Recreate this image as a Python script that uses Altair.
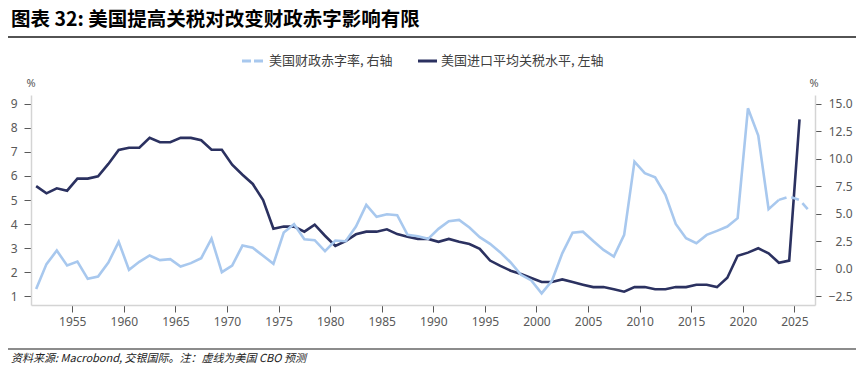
import altair as alt
import pandas as pd

# ---------------- data ----------------
years_tariff = list(range(1951, 2026))
tariff = [5.58, 5.28, 5.49, 5.39, 5.89, 5.89, 5.99, 6.50, 7.08, 7.17,
          7.17, 7.58, 7.40, 7.40, 7.58, 7.58, 7.48, 7.09, 7.09, 6.47,
          6.05, 5.67, 5.00, 3.81, 3.90, 3.90, 3.69, 3.98, 3.52, 3.10,
          3.30, 3.58, 3.69, 3.69, 3.79, 3.59, 3.48, 3.39, 3.39, 3.27,
          3.39, 3.27, 3.18, 2.98, 2.49, 2.27, 2.07, 1.93, 1.77, 1.60,
          1.60, 1.71, 1.60, 1.49, 1.39, 1.39, 1.30, 1.20, 1.39, 1.39,
          1.30, 1.30, 1.39, 1.39, 1.49, 1.49, 1.39, 1.78, 2.69, 2.82,
          3.00, 2.79, 2.40, 2.49, 8.35]

years_deficit = list(range(1951, 2027))
deficit = [-1.83, 0.44, 1.67, 0.31, 0.67, -0.90, -0.69, 0.58, 2.46, -0.08,
           0.65, 1.22, 0.80, 0.89, 0.22, 0.53, 0.98, 2.76, -0.29, 0.31,
           2.12, 1.92, 1.19, 0.46, 3.30, 4.06, 2.70, 2.61, 1.61, 2.58,
           2.52, 3.85, 5.81, 4.73, 4.97, 4.88, 3.09, 2.97, 2.73, 3.64,
           4.33, 4.45, 3.76, 2.89, 2.28, 1.50, 0.59, -0.53, -1.04, -2.22,
           -1.07, 1.42, 3.29, 3.38, 2.53, 1.73, 1.13, 3.09, 9.74, 8.69,
           8.32, 6.72, 4.09, 2.79, 2.34, 3.09, 3.46, 3.85, 4.61, 14.58,
           12.10, 5.42, 6.27, 6.57, 6.27, 5.21]
forecast_start = 2023

x_ticks = list(range(1955, 2026, 5))
left_ticks = list(range(1, 10))
right_ticks = [-2.5, 0, 2.5, 5, 7.5, 10, 12.5, 15]

title_text = "图表 32: 美国提高关税对改变财政赤字影响有限"
legend_deficit = "美国财政赤字率, 右轴"
legend_tariff = "美国进口平均关税水平, 左轴"
source_text = "资料来源: Macrobond, 交银国际。注：虚线为美国 CBO 预测"

# ---------------- styling ----------------
DARK = "#2B3160"
LIGHT = "#A8C8EE"
AX = "#595959"
DOM = "#D4D4D4"
FONT = "Noto Sans"
CJK = "Noto Sans CJK SC"
W, H = 784, 210

df_t = pd.DataFrame({"year": years_tariff, "value": tariff})
df_d = pd.DataFrame({"year": years_deficit, "value": deficit})
df_ds = df_d[df_d["year"] <= forecast_start]
df_df = df_d[df_d["year"] >= forecast_start]

x_enc = alt.X(
    "xp:Q",
    scale=alt.Scale(domain=[1951, 2027], nice=False, zero=False),
    axis=alt.Axis(values=x_ticks, format="d", title=None, grid=False,
                  tickSize=7, labelPadding=4, domainColor=DOM, domainWidth=1.5,
                  tickColor=AX, labelColor=AX, labelFontSize=12, labelFont=FONT),
)

dark = alt.Chart(df_t).transform_calculate(xp="datum.year + 0.5").mark_line(
    color=DARK, strokeWidth=2.6
).encode(
    x=x_enc,
    y=alt.Y("value:Q",
            scale=alt.Scale(domain=[0.647, 9.36], nice=False, zero=False),
            axis=alt.Axis(orient="left", values=left_ticks, title=None, grid=False,
                          tickSize=7, labelPadding=7, domainColor=DOM, domainWidth=1.5,
                          tickColor=AX, labelColor=AX, labelFontSize=12, labelFont=FONT)),
)

y_right = alt.Y("value:Q",
                scale=alt.Scale(domain=[-3.272, 15.79], nice=False, zero=False),
                axis=alt.Axis(orient="right", values=right_ticks, format=".1f", title=None,
                              grid=False, tickSize=6, labelPadding=31, labelAlign="right",
                              domainColor=DOM, domainWidth=1.5, tickColor=AX, labelColor=AX,
                              labelFontSize=12, labelFont=FONT))

light_solid = alt.Chart(df_ds).transform_calculate(xp="datum.year + 0.5").mark_line(
    color=LIGHT, strokeWidth=2.6
).encode(x=x_enc, y=y_right)

light_dash = alt.Chart(df_df).transform_calculate(xp="datum.year + 0.5").mark_line(
    color=LIGHT, strokeWidth=2.6, strokeDash=[8, 5]
).encode(x=x_enc, y=y_right)

light = alt.layer(light_solid, light_dash)


def txt(s, x, y, size, color, font=CJK, align="left", **kw):
    return alt.Chart(alt.Data(values=[{"t": s}])).mark_text(
        align=align, baseline="middle", fontSize=size, color=color, font=font, **kw
    ).encode(x=alt.value(x), y=alt.value(y), text="t:N")


def rule(x1, x2, y, color, width, **kw):
    return alt.Chart(alt.Data(values=[{"a": 1}])).mark_rule(
        color=color, strokeWidth=width, **kw
    ).encode(x=alt.value(x1), x2=alt.value(x2), y=alt.value(y))


decos = [
    txt(title_text, -20, -75, 19.5, "#000000", fontWeight="bold"),
    rule(-23, 841, -58, "#1a1a1a", 1.5),
    rule(211, 234, -34, LIGHT, 3, strokeDash=[9, 3]),
    txt(legend_deficit, 238, -34, 13, "#404040"),
    rule(387, 406, -34, DARK, 3),
    txt(legend_tariff, 410, -34, 13, "#404040"),
    txt("%", 0, -11, 11, AX, font=FONT, align="center"),
    txt("%", 783, -11, 11, AX, font=FONT, align="center"),
    rule(-23, 841, 254, "#1a1a1a", 1.2),
    txt(source_text, -20, 264, 11, "#222222", fontStyle="italic"),
]

chart = alt.layer(dark, light, *decos).resolve_scale(y="independent").properties(
    width=W, height=H,
    autosize=alt.AutoSizeParams(type="none"),
    padding={"left": 23, "top": 87, "right": 41, "bottom": 59},
).configure_view(stroke=None)

chart.save("out.html", embed_options={"renderer": "svg", "actions": False})
